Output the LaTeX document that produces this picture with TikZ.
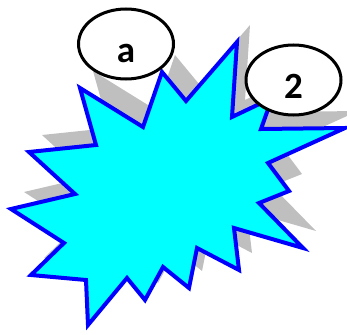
\documentclass[tikz,border=0pt]{standalone}
\usepackage{fontspec}
\setmainfont{Carlito}
\usetikzlibrary{shapes.geometric}
\definecolor{burstfill}{HTML}{00FFFF}
\definecolor{burstline}{HTML}{0000FF}
\definecolor{shadowgrey}{HTML}{BFBFBF}
\newcommand\burstpath{(80,88) -- (143,127) -- (162,72) -- (186,101) -- (237,42) -- (232,117) -- (272,98) -- (261,129) -- (345,128) -- (268,163) -- (289,191) -- (259,203) -- (303,248) -- (234,228) -- (239,270) -- (197,248) -- (189,288) -- (163,267) -- (145,300) -- (127,278) -- (88,325) -- (86,280) -- (31,275) -- (64,243) -- (11,209) -- (75,194) -- (29,152) -- (96,145) -- cycle}
\tikzset{
  burstshadow/.style={fill=shadowgrey},
  burst/.style={fill=burstfill, draw=burstline, line width=4pt, line join=miter},
  bubble/.style={ellipse, draw=black, fill=white, line width=3pt, minimum width=95pt, minimum height=70pt, inner sep=0pt, text height=38pt, text depth=0pt, font=\bfseries\fontsize{37}{37}\selectfont}
}
\begin{document}
\begin{tikzpicture}[x=1pt, y=-1pt]
\useasboundingbox (0,0) rectangle (347,334);
\fill[burstshadow, xshift=13pt, yshift=17pt] \burstpath;
\draw[burst] \burstpath;
\node[bubble] (a) at (126,44) {a};
\node[bubble] (two) at (293.5,80) {2};
\end{tikzpicture}
\end{document}
